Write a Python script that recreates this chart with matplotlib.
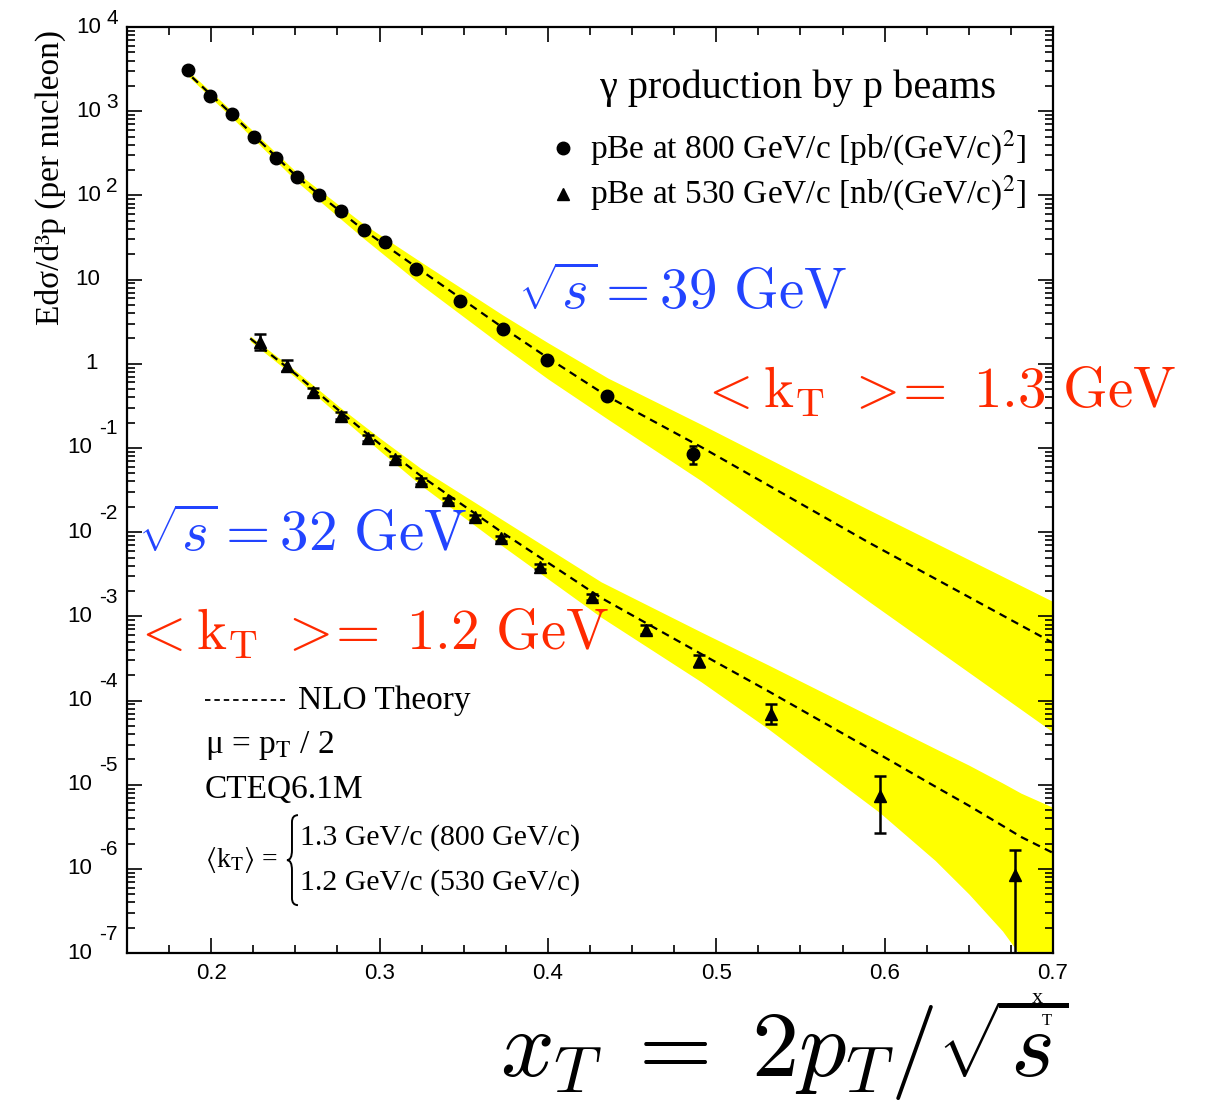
import matplotlib
matplotlib.use("Agg")
import matplotlib.pyplot as plt
from matplotlib.path import Path
from matplotlib.patches import PathPatch
from matplotlib.transforms import offset_copy
from matplotlib.ticker import LogLocator, MultipleLocator, FuncFormatter, NullFormatter

# NLO theory, 800 GeV/c beam (sqrt(s)=39 GeV)
x_th800 = [0.183, 0.2125, 0.251, 0.2905, 0.3244, 0.3732, 0.40, 0.4357, 0.491, 0.5905, 0.700]
th800 = [3236, 912, 166, 38.9, 12.94, 2.69, 1.175, 0.407, 0.1028, 7.55e-3, 4.84e-4]
hi800 = [3467, 1000, 186, 45.7, 16.3, 3.80, 1.78, 0.676, 0.191, 0.0185, 1.50e-3]
lo800 = [3020, 832, 145, 30.9, 8.75, 1.62, 0.661, 0.219, 0.0409, 1.51e-3, 4.22e-5]

# NLO theory, 530 GeV/c beam (sqrt(s)=32 GeV)
x_th530 = [0.2232, 0.25, 0.2774, 0.30, 0.3244, 0.372, 0.4316, 0.491, 0.531, 0.597,
           0.63, 0.65, 0.67, 0.681, 0.700]
th530 = [2.0, 0.759, 0.263, 0.112, 0.0468, 0.0102, 1.66e-3, 3.58e-4, 1.29e-4, 2.29e-5,
         9.53e-6, 5.65e-6, 3.26e-6, 2.40e-6, 1.55e-6]
hi530 = [2.14, 0.832, 0.295, 0.132, 0.0575, 0.01445, 2.57e-3, 6.52e-4, 2.64e-4, 5.75e-5,
         2.69e-5, 1.71e-5, 1.05e-5, 7.94e-6, 5.38e-6]
lo530 = [1.86, 0.692, 0.229, 0.0933, 0.0363, 7.08e-3, 9.77e-4, 1.67e-4, 4.59e-5, 4.68e-6,
         1.26e-6, 5.04e-7, 1.83e-7, 9.12e-8, 1.55e-8]

# pBe at 800 GeV/c [pb/(GeV/c)^2]
x800 = [0.1863, 0.1994, 0.2125, 0.2256, 0.2387, 0.2512, 0.2643, 0.2774, 0.2905, 0.303,
        0.3214, 0.3476, 0.3732, 0.3994, 0.435, 0.4863]
y800 = [3.1e3, 1.5e3, 9.2e2, 5.0e2, 2.8e2, 1.67e2, 1.01e2, 65.5, 38.8, 27.9,
        13.3, 5.5, 2.56, 1.12, 0.417, 0.0847]
err800 = [3.5e2, 1.4e2, 70, 35, 18, 10, 6, 3.8, 2.2, 1.5, 0.7, 0.3, 0.14, 0.07, 0.035, 0.02]

# pBe at 530 GeV/c [nb/(GeV/c)^2]
x530 = [0.2292, 0.2452, 0.2607, 0.2774, 0.2929, 0.3089, 0.3244, 0.3405, 0.3565, 0.372,
        0.3952, 0.4262, 0.4583, 0.4899, 0.5327, 0.597, 0.6774]
y530 = [1.79, 0.95, 0.466, 0.241, 0.1316, 0.0739, 0.0404, 0.0240, 0.01503, 0.00844,
        0.00391, 0.00171, 6.9e-4, 2.95e-4, 6.9e-5, 7.4e-6, 8.5e-7]
err530_up = [0.45, 0.15, 0.05, 0.025, 0.012, 0.006, 0.003, 0.0018, 0.0011, 0.0006,
             0.0003, 0.00015, 9e-5, 5.5e-5, 2.2e-5, 5.2e-6, 8.5e-7]
err530_dn = [0.35, 0.12, 0.05, 0.02, 0.011, 0.006, 0.003, 0.0018, 0.0011, 0.0006,
             0.0003, 0.00014, 8e-5, 4.5e-5, 1.7e-5, 4.7e-6, 8.49e-7]

decades = list(range(-7, 5))

YELLOW = '#ffff00'
BLUE = '#2244ff'
RED = '#ff2a00'
SERIF = ['Liberation Serif', 'DejaVu Serif']
SANS = ['Liberation Sans', 'DejaVu Sans']

fig = plt.figure(figsize=(12.09, 11.07), dpi=100)
ax = fig.add_axes([0.105, 0.139, 0.766, 0.8366])

# bands + dashed NLO curves
ax.fill_between(x_th800, lo800, hi800, color=YELLOW, lw=0, zorder=1)
ax.fill_between(x_th530, lo530, hi530, color=YELLOW, lw=0, zorder=1)
ax.plot(x_th800, th800, color='black', lw=1.6, dashes=[3.5, 2.5], zorder=2)
ax.plot(x_th530, th530, color='black', lw=1.6, dashes=[3.5, 2.5], zorder=2)

ax.errorbar(x800, y800, yerr=err800, fmt='o', color='black', ms=9,
            elinewidth=1.8, capsize=3, capthick=1.8, zorder=3)
ax.errorbar(x530, y530, yerr=[err530_dn, err530_up], fmt='^', color='black', ms=8,
            elinewidth=1.8, capsize=4, capthick=1.8, zorder=3)

ax.set_yscale('log')
ax.set_xlim(0.15, 0.7)
ax.set_ylim(1e-7, 1e4)

# ticks
ax.xaxis.set_major_locator(MultipleLocator(0.1))
ax.xaxis.set_minor_locator(MultipleLocator(0.025))
ax.yaxis.set_major_locator(LogLocator(base=10, numticks=20))
ax.yaxis.set_minor_locator(LogLocator(base=10, subs=range(2, 10), numticks=20))
ax.yaxis.set_major_formatter(NullFormatter())
ax.yaxis.set_minor_formatter(NullFormatter())
ax.xaxis.set_major_formatter(FuncFormatter(lambda v, p: '%.1f' % v))
ax.tick_params(which='both', direction='in', top=True, right=True, width=1.2)
ax.tick_params(which='major', length=11)
ax.tick_params(which='minor', length=5.5)
ax.tick_params(axis='x', which='major', pad=7)
for lab in ax.get_xticklabels():
    lab.set_family(SANS)
    lab.set_fontsize(16)
for s in ax.spines.values():
    s.set_linewidth(1.6)

# y tick labels in the "10  ^n" style
ytr = ax.get_yaxis_transform()
ytr_pos = offset_copy(ytr, fig=fig, x=0, y=9, units='dots')
ytr_neg = offset_copy(ytr, fig=fig, x=0, y=19, units='dots')
for e in decades:
    v = 10.0 ** e
    if e == 0:
        ax.text(-0.031, v, '1', transform=ytr, ha='right', va='center', family=SANS, fontsize=16)
    elif e == 1:
        ax.text(-0.029, v, '10', transform=ytr, ha='right', va='center', family=SANS, fontsize=16)
    else:
        xb = -0.0378 if e < 0 else -0.028
        ax.text(xb, v, '10', transform=ytr, ha='right', va='center', family=SANS, fontsize=16)
        ax.text(-0.0097, v, '%d' % e, transform=ytr_neg if e < 0 else ytr_pos,
                ha='right', va='center', family=SANS, fontsize=15)

ax.set_ylabel('Edσ/d³p (per nucleon)', family=SERIF, fontsize=24)
ax.yaxis.set_label_coords(-0.066, 0.838)

# legend (drawn by hand)
ax.text(0.725, 0.934, 'γ production by p beams', transform=ax.transAxes,
        family=SERIF, fontsize=29, ha='center', va='center')
ax.plot([0.471], [0.869], 'o', color='black', ms=9, transform=ax.transAxes, clip_on=False)
ax.plot([0.471], [0.820], '^', color='black', ms=8, transform=ax.transAxes, clip_on=False)
ax.text(0.500, 0.869, 'pBe at 800 GeV/c [pb/(GeV/c)$^2$]', transform=ax.transAxes,
        family=SERIF, fontsize=24, ha='left', va='center', math_fontfamily='stix')
ax.text(0.500, 0.820, 'pBe at 530 GeV/c [nb/(GeV/c)$^2$]', transform=ax.transAxes,
        family=SERIF, fontsize=24, ha='left', va='center', math_fontfamily='stix')

# theory description block
ax.plot([0.084, 0.171], [0.273, 0.273], color='black', lw=1.3, dashes=[3, 2.2],
        transform=ax.transAxes)
ax.text(0.185, 0.273, 'NLO Theory', transform=ax.transAxes, family=SERIF,
        fontsize=24, ha='left', va='center')
ax.text(0.084, 0.224, 'μ = p$_\\mathrm{T}$ / 2', transform=ax.transAxes, family=SERIF,
        fontsize=24, ha='left', va='center', math_fontfamily='stix')
ax.text(0.084, 0.176, 'CTEQ6.1M', transform=ax.transAxes, family=SERIF,
        fontsize=24, ha='left', va='center')
ax.text(0.084, 0.101, r'$\langle$k$_\mathrm{T}\rangle$ =', transform=ax.transAxes, family=SERIF,
        fontsize=20, ha='left', va='center', math_fontfamily='stix')
brace = Path([(0.1847, 0.149), (0.1782, 0.149), (0.1782, 0.1415), (0.1782, 0.1112),
              (0.1782, 0.1004), (0.1728, 0.1004), (0.1782, 0.1004), (0.1782, 0.0896),
              (0.1782, 0.0594), (0.1782, 0.0518), (0.1847, 0.0518)],
             [Path.MOVETO, Path.CURVE3, Path.CURVE3, Path.LINETO,
              Path.CURVE3, Path.CURVE3, Path.CURVE3, Path.CURVE3,
              Path.LINETO, Path.CURVE3, Path.CURVE3])
ax.add_patch(PathPatch(brace, transform=ax.transAxes, fill=False, lw=1.4, color='black'))
ax.text(0.187, 0.125, '1.3 GeV/c (800 GeV/c)', transform=ax.transAxes, family=SERIF,
        fontsize=21.5, ha='left', va='center')
ax.text(0.187, 0.076, '1.2 GeV/c (530 GeV/c)', transform=ax.transAxes, family=SERIF,
        fontsize=21.5, ha='left', va='center')

# original axis title, partly covered by the big formula (as in the source)
fig.text(0.858, 0.098, 'x', family=SERIF, fontsize=16, ha='center', va='center')
fig.text(0.866, 0.078, 'T', family=SERIF, fontsize=12, ha='center', va='center')

# big annotations
fig.text(0.4285, 0.735, r'$\sqrt{s} = 39\ \mathrm{GeV}$', color=BLUE, fontsize=41,
         ha='left', va='center', math_fontfamily='cm')
fig.text(0.578, 0.646, r'$<\mathrm{k_T}\ >\!\!=\ 1.3\ \mathrm{GeV}$', color=RED, fontsize=41,
         ha='left', va='center', math_fontfamily='cm')
fig.text(0.114, 0.5167, r'$\sqrt{s} = 32\ \mathrm{GeV}$', color=BLUE, fontsize=41,
         ha='left', va='center', math_fontfamily='cm')
fig.text(0.109, 0.428, r'$<\mathrm{k_T}\ >\!\!=\ 1.2\ \mathrm{GeV}$', color=RED, fontsize=41,
         ha='left', va='center', math_fontfamily='cm')
fig.text(0.4136, 0.0515, r'$x_T\;=\;2p_T/\sqrt{s}$', color='black', fontsize=68,
         ha='left', va='center', math_fontfamily='cm')

fig.savefig('out.png', dpi=100, facecolor='white')
